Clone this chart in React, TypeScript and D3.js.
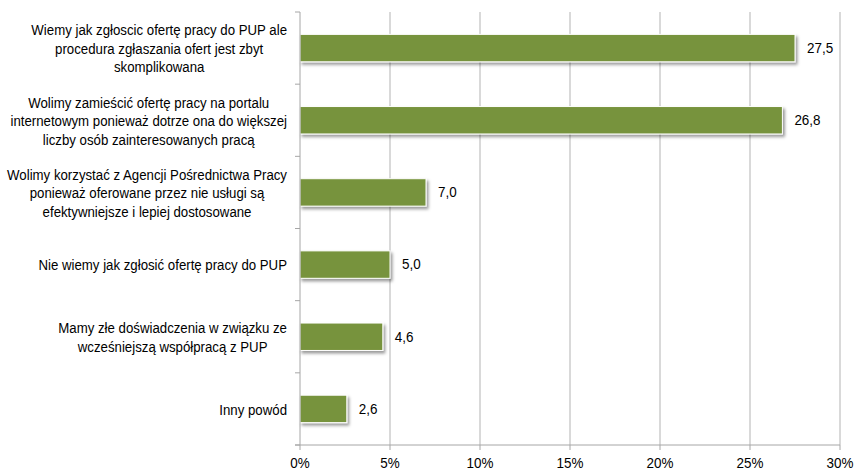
import React, { useEffect, useRef } from "react";
import * as d3 from "d3";

const categoryLines: string[][] = [
  ["Wiemy jak zgłoscic ofertę pracy do PUP ale", "procedura zgłaszania ofert jest zbyt", "skomplikowana"],
  ["Wolimy zamieścić ofertę pracy na portalu", "internetowym ponieważ dotrze ona do większej", "liczby osób zainteresowanych pracą"],
  ["Wolimy korzystać z Agencji Pośrednictwa Pracy", "ponieważ oferowane przez nie usługi są", "efektywniejsze i lepiej dostosowane"],
  ["Nie wiemy jak zgłosić ofertę pracy do PUP"],
  ["Mamy złe doświadczenia w związku ze", "wcześniejszą współpracą z PUP"],
  ["Inny powód"],
];
const values: number[] = [27.5, 26.8, 7.0, 5.0, 4.6, 2.6];
const xTicks: number[] = [0, 5, 10, 15, 20, 25, 30];

const W = 858;
const H = 470;
const M = { left: 300, right: 18, top: 12, bottom: 25 };
const FONT = "'Liberation Sans', Arial, sans-serif";
const SQUEEZE = 0.945;

export default function App() {
  const ref = useRef<SVGSVGElement>(null);
  useEffect(() => {
    const svg = d3.select(ref.current);
    svg.selectAll("*").remove();
    const x = d3.scaleLinear().domain([0, 30]).range([M.left, W - M.right]);
    const y = d3
      .scaleBand<number>()
      .domain(d3.range(values.length))
      .range([M.top, H - M.bottom])
      .paddingInner(0.62)
      .paddingOuter(0.31);
    const step = y.step();
    const plotTop = M.top;
    const plotBottom = H - M.bottom;

    const squeeze = (sel: d3.Selection<SVGTextElement, any, any, any>, k: number) => {
      sel.each(function () {
        const t = this as SVGTextElement;
        const len = t.getComputedTextLength();
        t.setAttribute("textLength", String(len * k));
        t.setAttribute("lengthAdjust", "spacingAndGlyphs");
      });
    };

    const defs = svg.append("defs");
    const f = defs.append("filter").attr("id", "sh").attr("x", "-10%").attr("y", "-30%").attr("width", "130%").attr("height", "180%");
    f.append("feDropShadow").attr("dx", 2).attr("dy", 2.5).attr("stdDeviation", 1.6).attr("flood-color", "#000").attr("flood-opacity", 0.4);

    // gridlines
    svg
      .append("g")
      .selectAll("line")
      .data(xTicks.slice(1))
      .join("line")
      .attr("x1", (d) => x(d))
      .attr("x2", (d) => x(d))
      .attr("y1", plotTop)
      .attr("y2", plotBottom)
      .attr("stroke", "#B3B3B3")
      .attr("stroke-width", 1);

    // bars
    svg
      .append("g")
      .selectAll("rect")
      .data(values)
      .join("rect")
      .attr("x", x(0))
      .attr("y", (_, i) => y(i)!)
      .attr("width", (d) => x(d) - x(0))
      .attr("height", y.bandwidth())
      .attr("fill", "#77933C")
      .attr("stroke", "#FFFFFF")
      .attr("stroke-width", 1)
      .attr("filter", "url(#sh)");

    // value labels
    const vl = svg
      .append("g")
      .selectAll("text")
      .data(values)
      .join("text")
      .attr("x", (d) => x(d) + 12)
      .attr("y", (_, i) => y(i)! + y.bandwidth() / 2)
      .attr("dy", "0.35em")
      .attr("font-family", FONT)
      .attr("font-size", 14)
      .attr("fill", "#000")
      .text((d) => d.toFixed(1).replace(".", ","));
    squeeze(vl as any, 0.96);

    // axes lines
    const ax = svg.append("g").attr("stroke", "#A6A6A6").attr("stroke-width", 1);
    ax.append("line").attr("x1", x(0)).attr("x2", x(0)).attr("y1", plotTop).attr("y2", plotBottom);
    ax.append("line").attr("x1", x(0) - 5).attr("x2", x(30)).attr("y1", plotBottom).attr("y2", plotBottom);
    d3.range(values.length + 1).forEach((i) => {
      const yy = plotTop + i * step;
      ax.append("line").attr("x1", x(0) - 5).attr("x2", x(0)).attr("y1", yy).attr("y2", yy);
    });
    xTicks.forEach((t) => {
      ax.append("line").attr("x1", x(t)).attr("x2", x(t)).attr("y1", plotBottom).attr("y2", plotBottom + 5);
    });

    // x tick labels
    const tl = svg
      .append("g")
      .selectAll("text")
      .data(xTicks)
      .join("text")
      .attr("x", (d) => x(d))
      .attr("y", plotBottom + 23)
      .attr("text-anchor", "middle")
      .attr("font-family", FONT)
      .attr("font-size", 14)
      .attr("fill", "#000")
      .text((d) => `${d}%`);
    squeeze(tl as any, 0.96);

    // category labels
    const lineH = 18.5;
    const right = x(0) - 13;
    categoryLines.forEach((lines, i) => {
      const cy = y(i)! + y.bandwidth() / 2 + 1;
      const g = svg.append("g");
      const texts = g
        .selectAll("text")
        .data(lines)
        .join("text")
        .attr("y", (_, j) => cy + (j - (lines.length - 1) / 2) * lineH)
        .attr("dy", "0.35em")
        .attr("text-anchor", "middle")
        .attr("font-family", FONT)
        .attr("font-size", 14)
        .attr("fill", "#000")
        .text((d) => d);
      let maxW = 0;
      texts.each(function () {
        maxW = Math.max(maxW, (this as SVGTextElement).getComputedTextLength());
      });
      maxW *= SQUEEZE;
      squeeze(texts as any, SQUEEZE);
      texts.attr("x", right - maxW / 2);
    });
  }, []);

  return (
    <svg ref={ref} width={W} height={H} style={{ display: "block", position: "absolute", left: 0, top: 0, background: "#fff" }} />
  );
}
